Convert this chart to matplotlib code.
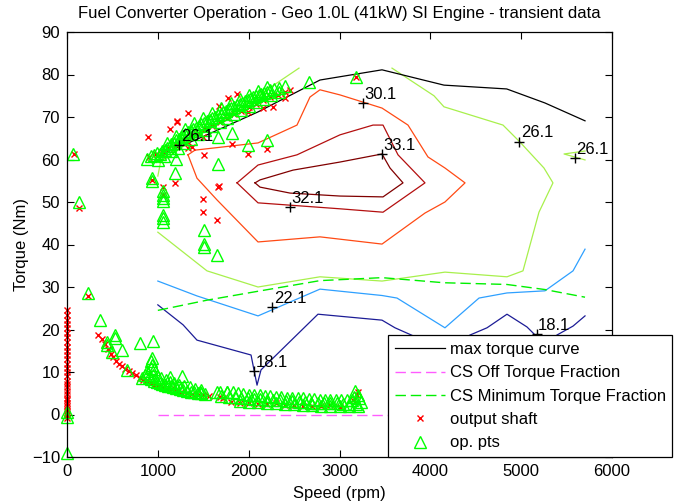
import numpy as np
import matplotlib
matplotlib.use('Agg')
import matplotlib.pyplot as plt

plt.rcParams['font.family'] = ['Liberation Sans', 'DejaVu Sans']

# max torque curve
mt_speed = [1000, 1541, 2103, 2785, 3468, 4150, 4841, 5262, 5703]
mt_torque = [60.8, 65.8, 71.2, 78.7, 81.1, 77.5, 76.6, 73.3, 69.1]

# charge sustaining torque fractions
csoff_speed = [1000, 5703]
csoff_torque = [0.0, 0.0]
csmin_speed = [1000, 1541, 2103, 2785, 3468, 4150, 4841, 5262, 5703]
csmin_torque = [24.5, 26.9, 29.0, 31.5, 32.2, 31.0, 30.6, 29.4, 27.6]

# efficiency contour lines
eff181_speed = [1000, 1278, 1431, 2026, 2092, 2136, 2763, 3468, 3611, 4161, 4437,
                4624, 4844, 5064, 5262, 5394, 5571, 5703]
eff181_torque = [25.8, 21.1, 17.5, 14.0, 6.9, 10.5, 23.6, 22.2, 20.4, 15.2, 18.7,
                 20.4, 23.6, 20.6, 16.4, 18.7, 20.8, 23.2]
eff221_speed = [1000, 1431, 2103, 2785, 3468, 3633, 4161, 4536, 4844, 5262, 5571, 5703]
eff221_torque = [31.4, 27.9, 23.2, 29.5, 28.0, 27.4, 20.4, 27.4, 28.6, 29.1, 33.8, 38.9]
eff261a_speed = [1000, 1030, 1541, 2554]
eff261a_torque = [56.1, 59.4, 66.9, 81.5]
eff261b_speed = [3578, 4040, 4150, 4800, 4987, 5251, 5350, 5196, 5020, 4844, 4161,
                 3468, 2785, 2103, 1541, 1000]
eff261b_torque = [81.5, 75.0, 72.4, 68.1, 64.1, 58.0, 54.5, 47.6, 33.8, 32.4, 33.5,
                  31.4, 32.4, 30.0, 33.8, 42.9]
eff261c_speed = [5703, 5472, 5703]
eff261c_torque = [62.0, 61.3, 59.9]
eff301_speed = [1332, 1431, 1651, 2103, 2785, 3468, 3941, 4161, 4382, 4161, 3974,
                3754, 3468, 3005, 2785, 2675, 2532, 2103, 1409, 1332]
eff301_torque = [61.1, 55.6, 50.5, 40.6, 41.8, 40.1, 47.4, 50.0, 54.5, 58.0, 60.6,
                 68.1, 72.1, 75.2, 76.4, 74.7, 68.1, 63.9, 62.2, 61.1]
eff321_speed = [1872, 2103, 2532, 3005, 3369, 3479, 3644, 3941, 3479, 3005, 2103, 1872]
eff321_torque = [54.5, 58.7, 61.1, 65.8, 68.1, 68.1, 61.1, 54.5, 47.6, 48.4, 49.8, 54.5]
eff331_speed = [2070, 2125, 2488, 3005, 3468, 3556, 3699, 3479, 3005, 2455, 2125, 2070]
eff331_torque = [54.5, 55.2, 57.5, 59.4, 61.3, 58.0, 54.5, 51.2, 51.4, 52.1, 53.5, 54.5]

# contour labels
clab_speed = [1236, 3262, 3465, 2455, 4979, 5593, 2260, 2062, 5171]
clab_torque = [63.4, 73.2, 61.3, 48.9, 64.2, 60.3, 25.2, 10.2, 19.0]
clab_text = ['26.1', '30.1', '33.1', '32.1', '26.1', '26.1', '22.1', '18.1', '18.1']

# operating points (speed rpm, torque Nm)
op_pts = [
    # idle / low speed
    (0, 0.5), (0, -0.5), (0, -9.0), (70, 61.3), (132, 50.1), (235, 28.5),
    (363, 22.2), (528, 18.7), (528, 18.0), (437, 17.1), (437, 16.4), (492, 14.8),
    (602, 15.2), (804, 16.8), (943, 17.4), (932, 13.2), (932, 11.6), (895, 9.7),
    (657, 10.5), (1134, 8.9), (1263, 9.1), (822, 8.5), (859, 9.3), (960, 10.6),
    (920, 11.0), (880, 10.3), (930, 12.6),
    # lower band
    (900, 8.8), (930, 8.4), (960, 8.0), (990, 7.7), (1020, 7.5), (1050, 7.2),
    (1080, 7.0), (1110, 6.8), (1140, 6.6), (1170, 6.4), (1200, 6.2), (1240, 6.0),
    (1280, 5.8), (1320, 5.6), (1360, 5.4), (1400, 5.3), (1440, 5.1), (1480, 5.0),
    (1520, 4.9), (950, 9.4), (1000, 8.9), (1040, 8.5), (1090, 8.1), (1130, 7.7),
    (1180, 7.3), (1230, 7.0), (1290, 6.7), (1350, 6.4), (1410, 6.1), (1470, 5.8),
    (1464, 5.4), (1648, 5.4), (1758, 5.4),
    (1680, 5.4), (1760, 5.3), (1830, 5.3), (1880, 5.0), (1940, 4.8), (2000, 4.7),
    (2060, 4.6), (2120, 4.5), (2180, 4.4), (2240, 4.3), (2300, 4.2), (2360, 4.1),
    (2420, 4.0), (2480, 3.9), (2540, 3.8), (2600, 3.8), (2660, 3.7), (2720, 3.6),
    (2780, 3.5), (2840, 3.5), (2900, 3.4), (2960, 3.4), (3020, 3.3), (3080, 3.3),
    (3140, 3.3), (1700, 4.4), (1780, 4.2), (1850, 4.1), (1920, 3.9), (1990, 3.8),
    (2060, 3.7), (2130, 3.6), (2200, 3.5), (2270, 3.4), (2340, 3.3), (2410, 3.2),
    (2480, 3.1), (2550, 3.0), (2620, 2.9), (2690, 2.8), (2760, 2.8), (2830, 2.7),
    (2900, 2.6), (2970, 2.6), (3040, 2.5), (3110, 2.5), (3180, 2.5), (1900, 3.2),
    (2000, 3.0), (2100, 2.9), (2200, 2.8), (2300, 2.7), (2400, 2.5), (2500, 2.4),
    (2600, 2.3), (2700, 2.2), (2800, 2.1), (2900, 2.0), (3000, 2.0), (3100, 1.9),
    (3200, 1.9), (3170, 5.6), (3200, 4.6), (3220, 3.8), (3240, 3.0), (3160, 4.2),
    # upper band
    (880, 60.2), (920, 60.8), (960, 61.0), (990, 61.5), (1020, 61.3), (1050, 62.0),
    (1080, 62.3), (1100, 62.8), (1130, 63.2), (1150, 63.6), (1180, 64.0), (1200, 64.5),
    (1230, 64.8), (1250, 65.3), (1280, 65.6), (1300, 66.0), (1330, 66.4), (1360, 66.8),
    (1390, 67.1), (1420, 67.5), (1450, 67.9), (1480, 68.3), (1510, 68.6), (1540, 69.0),
    (1570, 69.3), (1600, 69.7), (1630, 70.0), (1660, 70.4), (1690, 70.7), (1720, 71.1),
    (1750, 71.4), (1780, 71.8), (1810, 72.1), (1840, 72.4), (1870, 72.8), (1900, 73.1),
    (1930, 73.4), (1960, 73.7), (1990, 74.0), (2020, 74.3), (2050, 74.6), (2080, 74.9),
    (2110, 75.2), (2140, 75.4), (2170, 75.7), (2200, 76.0), (2240, 76.3), (2280, 76.6),
    (2330, 76.9), (2400, 77.3),
    (1000, 60.0), (1070, 60.8), (1150, 61.9), (1220, 62.8), (1290, 63.8), (1360, 64.8),
    (1440, 65.9), (1520, 66.9), (1600, 67.9), (1680, 68.9), (1760, 69.8), (1840, 70.8),
    (1920, 71.7), (2000, 72.6), (2080, 73.5), (2160, 74.3), (2250, 75.1), (2330, 75.8),
    (1100, 64.0), (1200, 65.6), (1300, 67.2), (1400, 68.5), (1500, 69.8), (1600, 71.0),
    (1700, 72.2), (1800, 73.3), (1900, 74.3), (2000, 75.2), (2100, 76.1), (2200, 77.0),
    (2668, 78.3), (3182, 79.3),
    # scattered below the upper band
    (932, 55.6), (932, 55.0), (1060, 52.5), (1060, 51.7), (1060, 51.0), (1060, 50.3),
    (1060, 47.0), (1060, 46.3), (1060, 45.3), (1200, 60.1), (1190, 56.9), (1666, 65.2),
    (1666, 59.0), (1813, 66.2), (1996, 63.4), (2198, 64.6), (1508, 43.4), (1508, 40.1),
    (1508, 39.5), (1648, 37.5),
]

# output shaft points
shaft_pts = [
    # zero speed column
    (0, 24.5), (0, 23.5), (0, 22.3), (0, 21.3), (0, 20.3), (0, 19.2), (0, 18.2),
    (0, 17.0), (0, 16.0), (0, 15.0), (0, 14.0), (0, 13.0), (0, 12.0), (0, 11.0),
    (0, 10.0), (0, 9.0), (0, 8.0), (0, 7.2), (0, 6.4), (0, 5.6), (0, 4.8), (0, 4.0),
    (0, 3.3), (0, 2.6), (0, 2.0), (0, 1.4), (0, 0.8), (0, 0.3), (0, -0.2), (0, -0.8),
    # lower curve
    (345, 18.7), (380, 17.8), (418, 16.5), (450, 15.4), (480, 14.3), (510, 13.5),
    (540, 12.7), (570, 12.0), (600, 11.5), (640, 10.8), (680, 10.2), (720, 9.7),
    (760, 9.2), (800, 8.7), (840, 8.2), (880, 7.8), (920, 7.4), (960, 7.0),
    (1000, 6.7), (1050, 6.4), (1100, 6.1), (1150, 5.9), (1200, 5.6), (1260, 5.4),
    (1320, 5.1), (1380, 4.9), (1440, 4.7), (1500, 4.5), (1560, 4.3), (1680, 4.1),
    (1720, 3.8), (1800, 3.0), (1900, 2.8), (2000, 2.6), (2100, 2.5), (2200, 2.4),
    (2300, 2.6), (2400, 2.3), (2500, 2.2), (2600, 2.1), (2700, 2.0), (2800, 1.9),
    (2900, 2.2), (3000, 1.7), (3150, 3.4), (3190, 4.6), (3200, 5.3),
    # isolated
    (77, 61.3), (132, 48.5), (235, 27.9), (3182, 79.3),
    # upper band
    (900, 60.5), (980, 61.2), (1050, 61.8), (1120, 62.6), (1200, 63.5), (1280, 64.5),
    (1360, 65.5), (1440, 66.3), (1520, 67.2), (1600, 68.0), (1680, 68.9), (1760, 69.7),
    (1840, 70.6), (1920, 71.5), (2000, 72.3), (2080, 73.1), (2160, 73.9), (2240, 74.6),
    (2320, 75.2), (2400, 75.8), (2460, 76.3),
    (1868, 75.4), (1776, 74.5), (1677, 72.5), (1336, 71.0), (1134, 67.1), (1207, 69.1),
    (1213, 68.8), (888, 65.4), (2400, 74.4), (2271, 72.4), (2158, 72.1), (1996, 71.2),
    (1373, 63.0), (1336, 64.2), (1494, 65.4), (1813, 63.7), (1996, 61.4), (2198, 62.5),
    (1508, 61.1), (1042, 61.1), (932, 55.2), (1666, 53.6), (1501, 50.7), (1501, 47.6),
    (1189, 54.4), (1060, 53.6), (1060, 51.6), (1336, 62.6), (1648, 45.8), (1673, 53.8),
]

op_speed = np.array([p[0] for p in op_pts])
op_torque = np.array([p[1] for p in op_pts])
shaft_speed = np.array([p[0] for p in shaft_pts])
shaft_torque = np.array([p[1] for p in shaft_pts])

contours = [
    (eff181_speed, eff181_torque, '#1c1c96'),
    (eff221_speed, eff221_torque, '#2ea0ff'),
    (eff261a_speed, eff261a_torque, '#a8f04c'),
    (eff261b_speed, eff261b_torque, '#a8f04c'),
    (eff261c_speed, eff261c_torque, '#a8f04c'),
    (eff301_speed, eff301_torque, '#ff4a14'),
    (eff321_speed, eff321_torque, '#b40f0f'),
    (eff331_speed, eff331_torque, '#800000'),
]

fs = 12
fig = plt.figure(figsize=(6.8, 5.04), dpi=100)
ax = fig.add_axes([67 / 680, 1 - 457 / 504, 545 / 680, 425 / 504])

for spd, trq, col in contours:
    ax.plot(spd, trq, color=col, linewidth=0.9)

ax.plot(mt_speed, mt_torque, color='black', linewidth=0.9, label='max torque curve')
ax.plot(csoff_speed, csoff_torque, color='#ff5cff', linewidth=1.0,
        dashes=(7.5, 3.5), label='CS Off Torque Fraction')
ax.plot(csmin_speed, csmin_torque, color='#00f000', linewidth=1.0,
        dashes=(7.5, 3.5), label='CS Minimum Torque Fraction')
# markers are not clipped at the axes edge (matlab style)
ax.plot(shaft_speed, shaft_torque, linestyle='none', marker='x', color='red',
        markersize=4, markeredgewidth=1.0, label='output shaft', clip_on=False)
ax.plot(op_speed, op_torque, linestyle='none', marker='^', color='#00ff00',
        markerfacecolor='none', markersize=8.5, markeredgewidth=1.0, label='op. pts',
        clip_on=False)

# contour labels
for s, t, txt in zip(clab_speed, clab_torque, clab_text):
    ax.plot(s, t, marker='+', color='black', markersize=7, markeredgewidth=1.0)
    ax.annotate(txt, (s, t), xytext=(1, 3), textcoords='offset points',
                fontsize=fs, ha='left', va='baseline')

ax.set_xlim(0, 6000)
ax.set_ylim(-10, 90)
ax.set_xticks(np.arange(0, 6001, 1000))
ax.set_yticks(np.arange(-10, 91, 10))
ax.tick_params(direction='in', top=True, right=True, length=5, width=0.8,
               labelsize=fs, pad=5)
for sp in ax.spines.values():
    sp.set_linewidth(0.9)

ax.set_title('Fuel Converter Operation - Geo 1.0L (41kW) SI Engine - transient data',
             fontsize=fs, pad=10)
ax.set_xlabel('Speed (rpm)', fontsize=fs, labelpad=5)
ax.set_ylabel('Torque (Nm)', fontsize=fs, labelpad=2)

leg = ax.legend(loc='lower left', bbox_to_anchor=(388 / 680, 1 - 457 / 504, 284 / 680, 0.2),
                bbox_transform=fig.transFigure, mode='expand', borderaxespad=0,
                fontsize=fs, numpoints=1, handlelength=3.0, handletextpad=0.35,
                labelspacing=0.5, borderpad=0.4, fancybox=False, framealpha=1,
                edgecolor='black')
leg.get_frame().set_linewidth(0.9)
leg.set_zorder(10)

fig.savefig('out.png', dpi=100)
